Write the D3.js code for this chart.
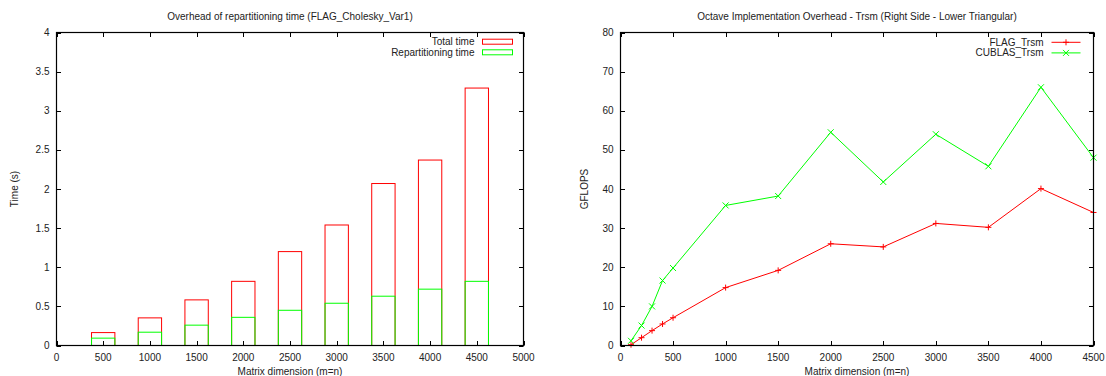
<!DOCTYPE html>
<html>
<head>
<meta charset="utf-8">
<script src="https://cdn.jsdelivr.net/npm/d3@7"></script>
<style>
html,body{margin:0;padding:0;background:#fff;}
svg{display:block;}
text{font-family:"Liberation Sans",Arial,Helvetica,sans-serif;fill:#222;}
</style>
</head>
<body>
<svg id="chart" width="1106" height="376"></svg>
<script>
// ---- Left chart data ----
const leftSizes = [500, 1000, 1500, 2000, 2500, 3000, 3500, 4000, 4500];
const totalTime = [0.165, 0.353, 0.583, 0.82, 1.20, 1.54, 2.07, 2.37, 3.29];
const repartTime = [0.094, 0.17, 0.26, 0.36, 0.45, 0.54, 0.63, 0.72, 0.82];
const leftXTicks = [0, 500, 1000, 1500, 2000, 2500, 3000, 3500, 4000, 4500, 5000];
const leftYTicks = [0, 0.5, 1, 1.5, 2, 2.5, 3, 3.5, 4];
const leftTitle = "Overhead of repartitioning time (FLAG_Cholesky_Var1)";
const leftLegend = ["Total time", "Repartitioning time"];

// ---- Right chart data ----
const rightSizes = [100, 200, 300, 400, 500, 1000, 1500, 2000, 2500, 3000, 3500, 4000, 4500];
const flagTrsm = [0.2, 2.0, 3.8, 5.5, 7.1, 14.8, 19.2, 26.0, 25.2, 31.2, 30.2, 40.1, 34.0];
const cublasTrsm = [1.2, 5.1, 10.0, 16.6, 19.8, 35.8, 38.2, 54.5, 41.8, 54.0, 45.8, 66.0, 48.0];
const rightXTicks = [0, 500, 1000, 1500, 2000, 2500, 3000, 3500, 4000, 4500];
const rightYTicks = [0, 10, 20, 30, 40, 50, 60, 70, 80];
const rightTitle = "Octave Implementation Overhead - Trsm (Right Side - Lower Triangular)";
const rightLegend = ["FLAG_Trsm", "CUBLAS_Trsm"];

const xLabel = "Matrix dimension (m=n)";
const RED = "#ff0000", GREEN = "#00ff00";

const svg = d3.select("#chart");
const FS = 10;
const TICK = 4.5;

function frame(g, x, y, xTicks, yTicks, yFmt) {
  const [x0, x1] = x.range();
  const [y0, y1] = y.range(); // y0 bottom, y1 top
  // ticks inward, bottom/top
  xTicks.forEach(t => {
    const px = Math.round(x(t)) + 0.5;
    g.append("line").attr("x1", px).attr("x2", px).attr("y1", y0).attr("y2", y0 - TICK).attr("stroke", "#000");
    g.append("line").attr("x1", px).attr("x2", px).attr("y1", y1).attr("y2", y1 + TICK).attr("stroke", "#000");
    g.append("text").attr("x", x(t)).attr("y", y0 + 15).attr("text-anchor", "middle")
      .attr("font-size", FS).text(t);
  });
  yTicks.forEach(t => {
    const py = Math.round(y(t)) + 0.5;
    g.append("line").attr("x1", x0).attr("x2", x0 + TICK).attr("y1", py).attr("y2", py).attr("stroke", "#000");
    g.append("line").attr("x1", x1).attr("x2", x1 - TICK).attr("y1", py).attr("y2", py).attr("stroke", "#000");
    g.append("text").attr("x", x0 - 7).attr("y", y(t)).attr("dy", "0.35em").attr("text-anchor", "end")
      .attr("font-size", FS).text(yFmt(t));
  });
  g.append("rect").attr("x", x0).attr("y", y1).attr("width", x1 - x0).attr("height", y0 - y1)
    .attr("fill", "none").attr("stroke", "#000").attr("stroke-width", 1.2);
}

// ===== Left chart =====
{
  const g = svg.append("g");
  const x = d3.scaleLinear().domain([0, 5000]).range([56.5, 523.5]);
  const y = d3.scaleLinear().domain([0, 4]).range([345.5, 32.5]);
  const bw = x(250) - x(0);
  // bars
  g.selectAll("rect.total").data(leftSizes).join("rect").attr("class", "total")
    .attr("x", d => x(d) - bw / 2).attr("width", bw)
    .attr("y", (d, i) => y(totalTime[i])).attr("height", (d, i) => y(0) - y(totalTime[i]))
    .attr("fill", "none").attr("stroke", RED).attr("stroke-width", 1);
  g.selectAll("rect.rep").data(leftSizes).join("rect").attr("class", "rep")
    .attr("x", d => x(d) - bw / 2).attr("width", bw)
    .attr("y", (d, i) => y(repartTime[i])).attr("height", (d, i) => y(0) - y(repartTime[i]))
    .attr("fill", "none").attr("stroke", GREEN).attr("stroke-width", 1);
  frame(g, x, y, leftXTicks, leftYTicks, d => d3.format("~g")(d));
  // title & labels
  g.append("text").attr("x", (x.range()[0] + x.range()[1]) / 2).attr("y", 19.5).attr("text-anchor", "middle")
    .attr("font-size", FS).text(leftTitle);
  g.append("text").attr("x", (x.range()[0] + x.range()[1]) / 2).attr("y", 375).attr("text-anchor", "middle")
    .attr("font-size", FS).text(xLabel);
  g.append("text").attr("transform", "translate(17.5," + ((y.range()[0] + y.range()[1]) / 2) + ") rotate(-90)")
    .attr("text-anchor", "middle").attr("font-size", FS).text("Time (s)");
  // legend
  const xr = x.range()[1];
  leftLegend.forEach((lab, i) => {
    const cy = 41.7 + i * 10.6;
    g.append("text").attr("x", xr - 49).attr("y", cy).attr("dy", "0.35em").attr("text-anchor", "end")
      .attr("font-size", FS).text(lab);
    g.append("rect").attr("x", xr - 41).attr("y", cy - 2.5).attr("width", 30).attr("height", 5)
      .attr("fill", "none").attr("stroke", i === 0 ? RED : GREEN).attr("stroke-width", 1);
  });
}

// ===== Right chart =====
{
  const g = svg.append("g");
  const x = d3.scaleLinear().domain([0, 4500]).range([620.5, 1093.5]);
  const y = d3.scaleLinear().domain([0, 80]).range([345.5, 32.5]);
  const series = [
    { vals: flagTrsm, color: RED, marker: "plus" },
    { vals: cublasTrsm, color: GREEN, marker: "cross" }
  ];
  const line = d3.line().x(d => x(d[0])).y(d => y(d[1]));
  const ms = 3;
  function marker(sel, type, cx, cy, color) {
    if (type === "plus") {
      sel.append("path").attr("d", `M${cx - ms},${cy}H${cx + ms}M${cx},${cy - ms}V${cy + ms}`)
        .attr("stroke", color).attr("stroke-width", 1).attr("fill", "none");
    } else {
      sel.append("path").attr("d", `M${cx - ms},${cy - ms}L${cx + ms},${cy + ms}M${cx - ms},${cy + ms}L${cx + ms},${cy - ms}`)
        .attr("stroke", color).attr("stroke-width", 1).attr("fill", "none");
    }
  }
  series.forEach(s => {
    const pts = rightSizes.map((d, i) => [d, s.vals[i]]);
    g.append("path").attr("d", line(pts)).attr("fill", "none").attr("stroke", s.color).attr("stroke-width", 1);
    pts.forEach(p => marker(g, s.marker, x(p[0]), y(p[1]), s.color));
  });
  frame(g, x, y, rightXTicks, rightYTicks, d => d);
  g.append("text").attr("x", (x.range()[0] + x.range()[1]) / 2).attr("y", 19.5).attr("text-anchor", "middle")
    .attr("font-size", FS).text(rightTitle);
  g.append("text").attr("x", (x.range()[0] + x.range()[1]) / 2).attr("y", 375).attr("text-anchor", "middle")
    .attr("font-size", FS).text(xLabel);
  g.append("text").attr("transform", "translate(587.5," + ((y.range()[0] + y.range()[1]) / 2) + ") rotate(-90)")
    .attr("text-anchor", "middle").attr("font-size", FS).text("GFLOPS");
  const xr = x.range()[1];
  rightLegend.forEach((lab, i) => {
    const cy = 42.3 + i * 10.6;
    g.append("text").attr("x", xr - 50).attr("y", cy).attr("dy", "0.35em").attr("text-anchor", "end")
      .attr("font-size", FS).text(lab);
    g.append("line").attr("x1", xr - 42).attr("x2", xr - 13).attr("y1", cy).attr("y2", cy)
      .attr("stroke", series[i].color).attr("stroke-width", 1);
    marker(g, series[i].marker, xr - 27.5, cy, series[i].color);
  });
}
</script>
</body>
</html>
